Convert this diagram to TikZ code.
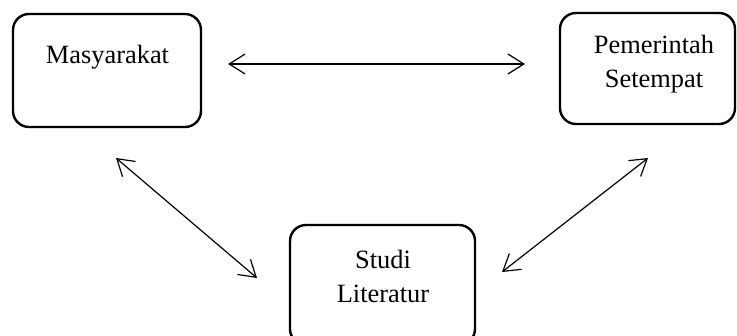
\documentclass[tikz,border=0pt]{standalone}
\usepackage{fontspec}
\setmainfont{Liberation Serif}
\usetikzlibrary{arrows.meta}
\begin{document}
\begin{tikzpicture}[x=0.5pt,y=-0.5pt,
    kotak/.style={draw,line width=1.2pt,rounded corners=8pt,inner sep=0pt},
    teks/.style={align=center,inner sep=0pt,font=\fontsize{13.2}{17}\selectfont},
    panah/.style={line width=0.6pt,{Straight Barb[length=8pt,width=10pt]}-{Straight Barb[length=8pt,width=10pt]}}]
      \useasboundingbox (0,0) rectangle (737,336);
      \clip (0,0) rectangle (737,336);
      \draw
        (107,70.5) node[kotak,minimum width=94pt,minimum height=56.5pt] (masy){}
        (647.5,68.5) node[kotak,minimum width=87.5pt,minimum height=55.5pt] (pem){}
        (382.5,285) node[kotak,minimum width=92.5pt,minimum height=60pt] (studi){};
      \draw
        (107.5,57) node[teks] (masyt){Masyarakat}
        (654,64) node[teks] (pemt){Pemerintah\\Setempat}
        (383,276) node[teks] (studit){Studi\\Literatur};
      \coordinate (a1) at (228,64);
      \coordinate (a2) at (525,64);
      \coordinate (b1) at (116,158);
      \coordinate (b2) at (257,278);
      \coordinate (c1) at (648,158);
      \coordinate (c2) at (502,272);
      \begin{scope}[panah]
        \draw (a1) to (a2);
        \draw (b1) to (b2);
        \draw (c1) to (c2);
      \end{scope}
    \end{tikzpicture}
\end{document}
